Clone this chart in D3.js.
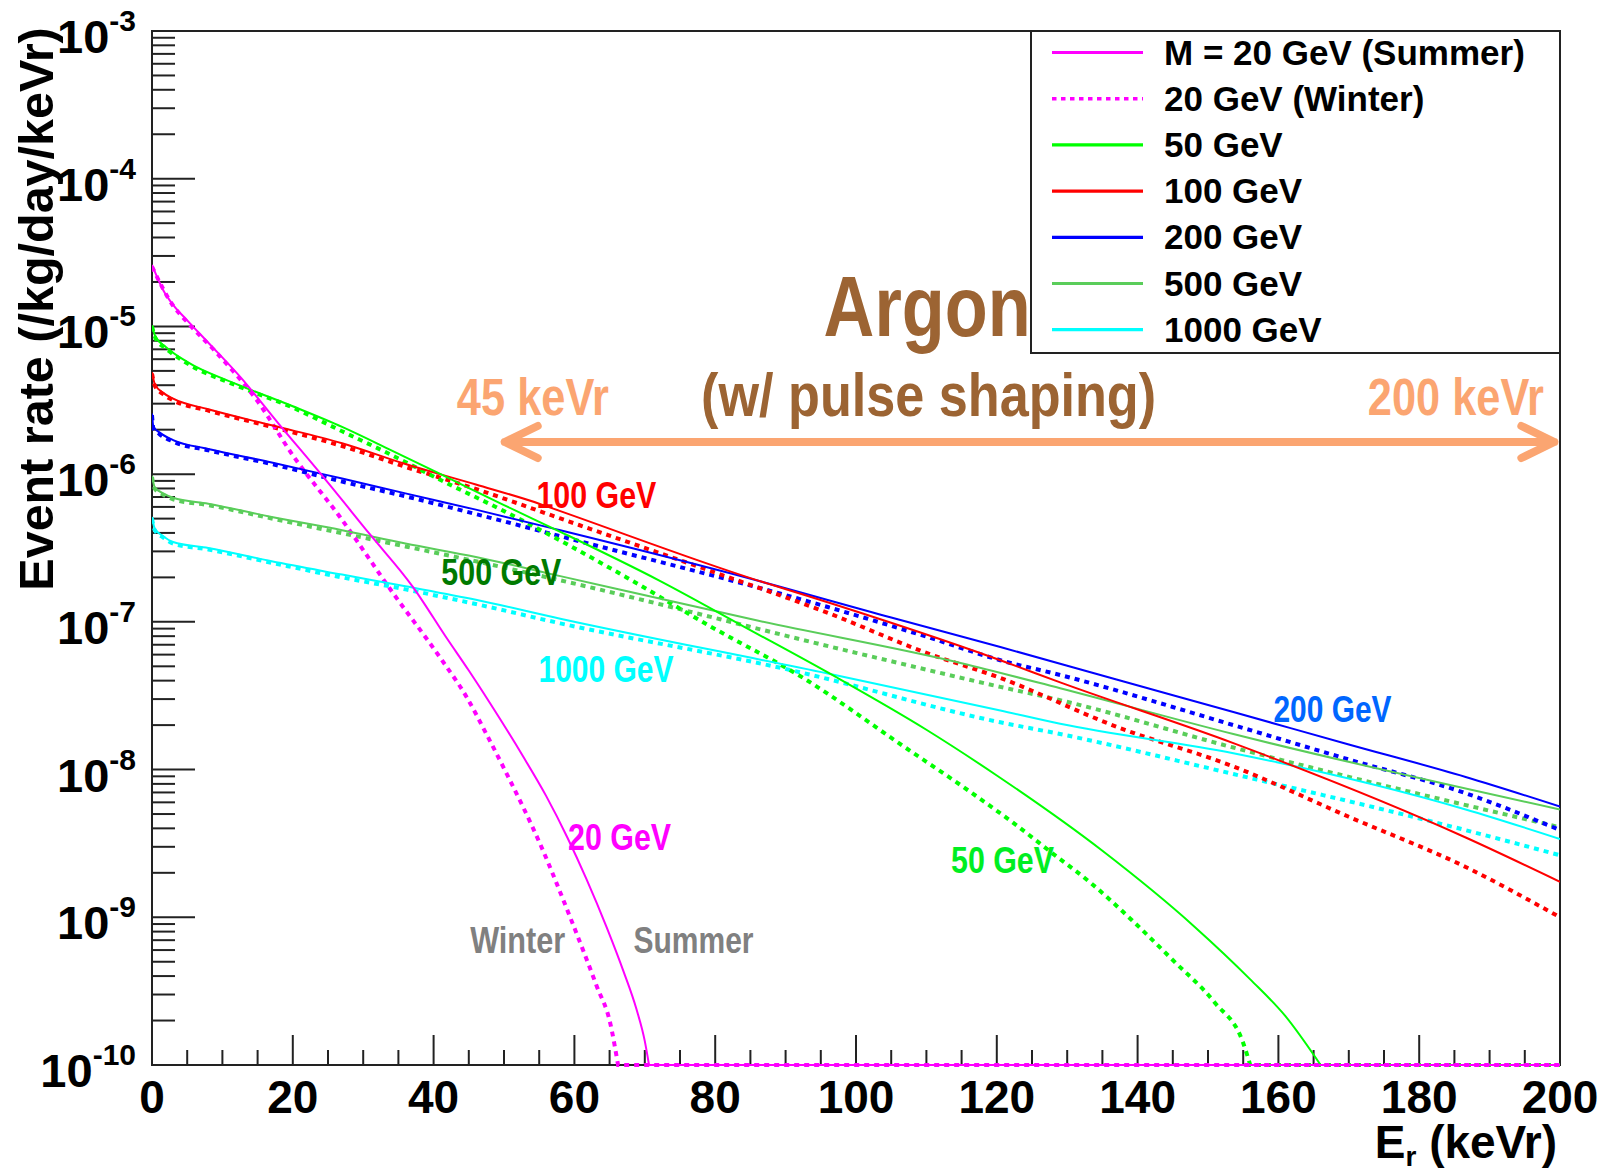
<!DOCTYPE html>
<html><head><meta charset="utf-8">
<script src="https://cdn.jsdelivr.net/npm/d3@7"></script>
<style>
body{margin:0;background:#fff}
svg{display:block}
text{font-family:"Liberation Sans",Arimo,Arial,Helvetica,sans-serif;font-weight:bold}
</style>
</head><body>
<svg id="chart" width="1609" height="1173"></svg>
<script>
// ---------------- DATA ----------------
// Recoil energy (keVr) and event rate (/kg/day/keVr) for each WIMP mass, summer (solid) and winter (dotted)
const E_m20S = [0,1.6,3,5,8,12.5,18,24,31,37,42,45,48,52.7,56,59,61.7,64.6,67,68.8,70,70.6,200];
const R_m20S = [2.61e-5,1.76e-5,1.40e-5,1.10e-5,7.76e-6,4.57e-6,2.19e-6,1.00e-6,3.89e-7,1.74e-7,7.59e-8,4.68e-8,2.82e-8,1.23e-8,6.61e-9,3.47e-9,1.82e-9,8.51e-10,4.27e-10,2.40e-10,1.45e-10,1e-10,1e-10];
const E_m20W = [0,3,5,9.2,14.9,20.1,26.7,34.3,40.9,44.7,47.5,50.4,55.1,59.4,63.2,65.1,66.2,200];
const R_m20W = [2.54e-5,1.38e-5,1.07e-5,6.61e-6,3.16e-6,1.32e-6,5.13e-7,1.55e-7,5.75e-8,3.09e-8,1.74e-8,9.33e-9,3.16e-9,1.00e-9,3.39e-10,1.91e-10,1e-10,1e-10];

const E_m50S = [0,0.5,2,5,12,20,27,34,41,50,58,72,84,97,110,120,135,148,156,161,166,200];
const R_m50S = [1.02e-5,8.51e-6,7.24e-6,5.75e-6,4.07e-6,2.88e-6,2.09e-6,1.45e-6,1.00e-6,6.17e-7,4.07e-7,1.91e-7,9.33e-8,4.27e-8,1.86e-8,9.12e-9,2.82e-9,8.71e-10,3.80e-10,2.14e-10,1e-10,1e-10];
const E_m50W = [0,0.5,2,5,12,20,27,34,41,50,58,67.4,79.3,92.5,107,115.3,122.3,128,133.4,139.2,145,151,155,156,200];
const R_m50W = [1.00e-5,8.32e-6,7.08e-6,5.62e-6,3.98e-6,2.82e-6,1.95e-6,1.35e-6,9.12e-7,5.62e-7,3.55e-7,2.00e-7,9.33e-8,4.17e-8,1.41e-8,7.59e-9,4.37e-9,2.69e-9,1.70e-9,9.55e-10,5.13e-10,2.63e-10,1.41e-10,1e-10,1e-10];

const E_m100S = [0,0.4,1.6,3,8,17,27,36,46,55,58,86,93.5,120.5,129,153.6,186.6,200];
const R_m100S = [4.90e-6,4.07e-6,3.55e-6,3.24e-6,2.75e-6,2.14e-6,1.62e-6,1.17e-6,8.51e-7,6.31e-7,5.62e-7,1.91e-7,1.48e-7,5.50e-8,3.89e-8,1.51e-8,3.47e-9,1.74e-9];
const E_m100W = [0,0.4,1.6,3,8,17,27,36,46,58,79,96,110,120.5,137,153.6,170,186.6,200];
const R_m100W = [4.79e-6,3.98e-6,3.47e-6,3.16e-6,2.69e-6,2.09e-6,1.55e-6,1.12e-6,7.94e-7,5.01e-7,2.24e-7,1.15e-7,6.17e-8,4.17e-8,1.95e-8,1.05e-8,4.79e-9,2.19e-9,1.00e-9];

const E_m200S = [0,0.2,1.1,3,8,17,27,36,46,58,82,105,120.5,137,153.6,170,186.6,200];
const R_m200S = [2.57e-6,2.09e-6,1.91e-6,1.70e-6,1.48e-6,1.20e-6,9.33e-7,7.41e-7,5.75e-7,4.17e-7,2.14e-7,1.07e-7,6.76e-8,4.07e-8,2.45e-8,1.48e-8,8.91e-9,5.62e-9];
const E_m200W = [0,0.2,1.1,3,8,17,27,36,46,58,96,110,120.5,129,153.6,170,186.6,200];
const R_m200W = [2.51e-6,2.04e-6,1.86e-6,1.66e-6,1.45e-6,1.17e-6,8.91e-7,7.08e-7,5.37e-7,3.80e-7,1.26e-7,7.94e-8,5.50e-8,4.37e-8,2.00e-8,1.17e-8,6.92e-9,3.89e-9];

const E_m500S = [0,0.4,1.6,3,8,17,27,36,46,58,86,115,129,153.6,200];
const R_m500S = [9.77e-7,8.13e-7,7.41e-7,6.92e-7,6.31e-7,5.13e-7,4.17e-7,3.39e-7,2.75e-7,2.04e-7,1.02e-7,5.25e-8,3.55e-8,1.74e-8,5.37e-9];
const E_m500W = [0,0.4,1.6,3,8,17,27,36,46,58,100,120.5,129,153.6,200];
const R_m500W = [9.55e-7,7.94e-7,7.24e-7,6.76e-7,6.17e-7,5.01e-7,3.98e-7,3.24e-7,2.57e-7,1.91e-7,6.17e-8,3.63e-8,2.95e-8,1.41e-8,4.07e-9];

const E_m1000S = [0,0.4,1.6,3,8,17,27,36,46,58,96,120.5,129,153.6,186.6,200];
const R_m1000S = [5.13e-7,4.27e-7,3.80e-7,3.47e-7,3.16e-7,2.57e-7,2.09e-7,1.74e-7,1.41e-7,1.05e-7,4.47e-8,2.51e-8,2.04e-8,1.29e-8,5.37e-9,3.39e-9];
const E_m1000W = [0,0.4,1.6,3,8,17,27,36,46,58,91,120.5,129,153.6,186.6,200];
const R_m1000W = [5.01e-7,4.17e-7,3.72e-7,3.39e-7,3.09e-7,2.51e-7,2.00e-7,1.66e-7,1.32e-7,9.77e-8,4.68e-8,2.09e-8,1.74e-8,9.33e-9,3.89e-9,2.63e-9];

const legendLabels = ["M = 20 GeV (Summer)","20 GeV (Winter)","50 GeV","100 GeV","200 GeV","500 GeV","1000 GeV"];
const xTickValues = [0,20,40,60,80,100,120,140,160,180,200];
const yDecadeExponents = [-10,-9,-8,-7,-6,-5,-4,-3];

// ---------------- STYLE / LAYOUT ----------------
const C = {mag:"#ff00ff", g50:"#00ff00", red:"#ff0000", blue:"#0000ff", g500:"#5acd5a", cyan:"#00ffff"};
const series = [
  {E:E_m1000W,R:R_m1000W,color:C.cyan,dot:true},
  {E:E_m500W,R:R_m500W,color:C.g500,dot:true},
  {E:E_m200W,R:R_m200W,color:C.blue,dot:true},
  {E:E_m100W,R:R_m100W,color:C.red,dot:true},
  {E:E_m50W,R:R_m50W,color:C.g50,dot:true},
  {E:E_m20W,R:R_m20W,color:C.mag,dot:true},
  {E:E_m1000S,R:R_m1000S,color:C.cyan,dot:false},
  {E:E_m500S,R:R_m500S,color:C.g500,dot:false},
  {E:E_m200S,R:R_m200S,color:C.blue,dot:false},
  {E:E_m100S,R:R_m100S,color:C.red,dot:false},
  {E:E_m50S,R:R_m50S,color:C.g50,dot:false},
  {E:E_m20S,R:R_m20S,color:C.mag,dot:false}
];
const legendStyles = [
  {color:C.mag,dot:false},{color:C.mag,dot:true},{color:C.g50,dot:false},
  {color:C.red,dot:false},{color:C.blue,dot:false},{color:C.g500,dot:false},{color:C.cyan,dot:false}
];

const L = 152, R = 1560, T = 31, B = 1065;
const svg = d3.select("#chart");
const x = d3.scaleLinear().domain([0,200]).range([L,R]);
const y = d3.scaleLog().domain([1e-10,1e-3]).range([B,T]);

svg.append("defs").append("clipPath").attr("id","plotclip")
  .append("rect").attr("x",L).attr("y",T-2).attr("width",R-L).attr("height",B-T+5);

// frame
svg.append("rect").attr("x",L).attr("y",T).attr("width",R-L).attr("height",B-T)
  .attr("fill","none").attr("stroke","#222").attr("stroke-width",2);

// y ticks (inside)
const yt = y.ticks().filter(v => v < 1e-3*1.0001);
svg.append("g").selectAll("line").data(yt).join("line")
  .attr("x1",L).attr("x2",d => {const m = Math.round(d/Math.pow(10,Math.floor(Math.log10(d)+1e-9))); return L + (m===1 ? 43 : 23);})
  .attr("y1",d=>y(d)).attr("y2",d=>y(d))
  .attr("stroke","#222").attr("stroke-width",2);

// x ticks (inside)
const xt = d3.range(0,201,5);
svg.append("g").selectAll("line").data(xt).join("line")
  .attr("x1",d=>x(d)).attr("x2",d=>x(d))
  .attr("y1",B).attr("y2",d => B - (d%20===0 ? 30 : 15))
  .attr("stroke","#222").attr("stroke-width",2);

// x tick labels
svg.append("g").selectAll("text").data(xTickValues).join("text")
  .attr("x",d=>x(d)).attr("y",1113).attr("text-anchor","middle")
  .attr("font-size",46).attr("fill","#000").text(d=>d);

// y tick labels 10^n
const ylab = svg.append("g").selectAll("text").data(yDecadeExponents).join("text")
  .attr("x",136).attr("y",d=>y(Math.pow(10,d))+22).attr("text-anchor","end")
  .attr("fill","#000").attr("font-size",47);
ylab.append("tspan").text("10");
ylab.append("tspan").attr("font-size",30).attr("dy",-22).text(d=>String(d));

// axis titles
svg.append("text").attr("transform","translate(53,309) rotate(-90)")
  .attr("text-anchor","middle").attr("font-size",48.5).attr("fill","#000")
  .text("Event rate (/kg/day/keVr)");
const xt2 = svg.append("text").attr("x",1557).attr("y",1158).attr("text-anchor","end")
  .attr("font-size",46).attr("fill","#000");
xt2.append("tspan").text("E");
xt2.append("tspan").attr("font-size",28).attr("dy",8).text("r");
xt2.append("tspan").attr("dy",-8).text(" (keVr)");

// curves: smooth part down to the 1e-10 floor, then straight along the floor
const line = d3.line().x(d=>x(d[0])).y(d=>y(d[1])).curve(d3.curveMonotoneX);
const cg = svg.append("g").attr("clip-path","url(#plotclip)");
series.forEach(s => {
  const pts = s.E.map((e,i)=>[e,s.R[i]]);
  let k = pts.findIndex(p => p[1] <= 1e-10);
  if (k < 0) k = pts.length - 1;
  let d = line(pts.slice(0,k+1));
  for (let j = k+1; j < pts.length; j++) d += `L${x(pts[j][0])},${y(pts[j][1])}`;
  cg.append("path").attr("d",d).attr("fill","none")
    .attr("stroke",s.color).attr("stroke-width",s.dot?4:2)
    .attr("stroke-dasharray",s.dot?"5,5":null);
});

// annotations (positions in data coordinates)
const brown = "#9c6433", salmon = "#fba571";
const notes = [
  {t:"Argon", e:95.4, v:8.6e-6, size:85, w:207, c:brown},
  {t:"(w/ pulse shaping)", e:78.0, v:2.49e-6, size:62, w:455, c:brown},
  {t:"45 keVr", e:43.3, v:2.51e-6, size:51, w:152, c:salmon},
  {t:"200 keVr", e:172.7, v:2.51e-6, size:51, w:176, c:salmon},
  {t:"100 GeV", e:54.6, v:5.86e-7, size:37, w:120, c:"#ff0000"},
  {t:"500 GeV", e:41.1, v:1.77e-7, size:37, w:120, c:"#007a00"},
  {t:"1000 GeV", e:54.9, v:3.93e-8, size:37, w:135, c:"#00ffff"},
  {t:"200 GeV", e:159.3, v:2.11e-8, size:37, w:118, c:"#0066ff"},
  {t:"20 GeV", e:59.1, v:2.85e-9, size:37, w:103, c:"#ff00ff"},
  {t:"50 GeV", e:113.5, v:1.99e-9, size:37, w:103, c:"#00ee22"},
  {t:"Winter", e:45.2, v:5.71e-10, size:37, w:95, c:"#808080"},
  {t:"Summer", e:68.4, v:5.71e-10, size:37, w:120, c:"#808080"}
];
svg.append("g").selectAll("text").data(notes).join("text")
  .attr("x",d=>x(d.e)).attr("y",d=>y(d.v)).attr("font-size",d=>d.size)
  .attr("fill",d=>d.c).attr("textLength",d=>d.w).attr("lengthAdjust","spacingAndGlyphs")
  .text(d=>d.t);

// double arrow 45 -> 200 keVr
const ax1 = x(50.1), ax2 = x(199.2), ay = y(1.65e-6);
svg.append("path")
  .attr("d",`M${ax1},${ay}H${ax2}M${ax1+33},${ay-16}L${ax1},${ay}L${ax1+33},${ay+16}M${ax2-33},${ay-16}L${ax2},${ay}L${ax2-33},${ay+16}`)
  .attr("fill","none").attr("stroke",salmon).attr("stroke-width",8)
  .attr("stroke-linecap","round").attr("stroke-linejoin","round");

// legend
const lg = svg.append("g");
lg.append("rect").attr("x",1031).attr("y",31).attr("width",529).attr("height",322)
  .attr("fill","#fff").attr("stroke","#222").attr("stroke-width",2);
const rowY = i => 52.5 + i*46.2;
legendLabels.forEach((lab,i) => {
  const st = legendStyles[i];
  lg.append("line").attr("x1",1052).attr("x2",1143).attr("y1",rowY(i)).attr("y2",rowY(i))
    .attr("stroke",st.color).attr("stroke-width",st.dot?3.5:3.2)
    .attr("stroke-dasharray",st.dot?"4.5,4.5":null);
  lg.append("text").attr("x",1164).attr("y",rowY(i)+12).attr("font-size",35)
    .attr("fill","#000").text(lab);
});
</script>
</body></html>
